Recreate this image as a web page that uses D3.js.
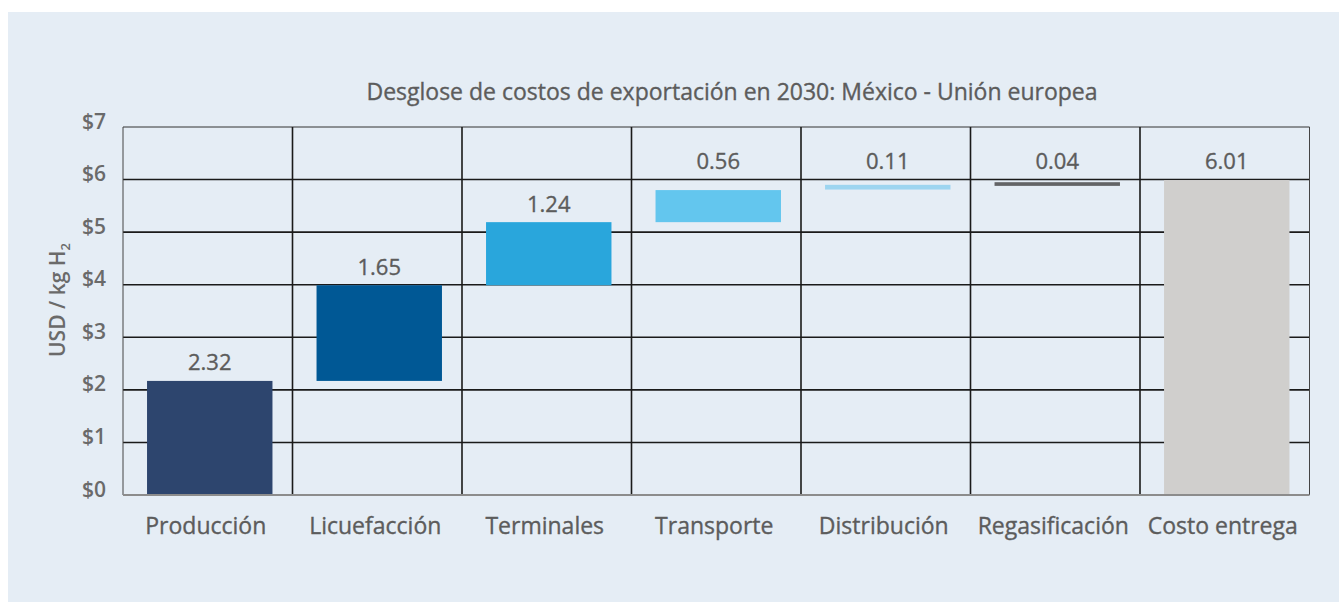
<!DOCTYPE html>
<html>
<head>
<meta charset="utf-8">
<style>
    body { margin: 0; background: #ffffff; }
    svg { display: block; font-family: "Open Sans", sans-serif; }
    .y .tick text { font-family: "Open Sans", sans-serif; font-size: 21px; font-weight: 600; fill: #6a6a6a; }
    .x .tick text { font-family: "Open Sans", sans-serif; font-size: 23px; fill: #5c5c5c; stroke: #5c5c5c; stroke-width: 0.35px; }
    .domain { display: none; }
    .medium { stroke: #5c5c5c; stroke-width: 0.35px; }
</style>
</head>
<body>
<svg width="1339" height="602"></svg>

<script src="https://d3js.org/d3.v7.min.js"></script>
<script>
    // categories and values
    const categories = ["Producción", "Licuefacción", "Terminales", "Transporte", "Distribución", "Regasificación", "Costo entrega"]
    const valueLabels = ["2.32", "1.65", "1.24", "0.56", "0.11", "0.04", "6.01"]
    // where each floating bar starts and ends, as drawn
    const barStart = [0, 2.17, 3.99, 5.19, 5.81, 5.88, 0]
    const barEnd = [2.17, 3.99, 5.19, 5.80, 5.90, 5.95, 5.99]
    const barColors = ["#2d456e", "#005895", "#29a6dc", "#63c6ee", "#9dd5f0", "#636466", "#d0cfcd"]
    const yTicks = [0, 1, 2, 3, 4, 5, 6, 7]

    const title = "Desglose de costos de exportación en 2030: México - Unión europea"

    let svg = d3.select("svg")

    let margin = { top: 127, right: 29.5, bottom: 107, left: 123 }
    let width = 1339
    let height = 602

    // light blue panel
    svg.append("rect")
        .attr("x", 8)
        .attr("y", 12)
        .attr("width", width - 8)
        .attr("height", height - 12)
        .style("fill", "#e5edf5")

    let x = d3.scaleBand()
        .domain(categories)
        .range([margin.left, width - margin.right])
        .padding(0)

    let y = d3.scaleLinear()
        .domain([0, 7])
        .range([height - margin.bottom, margin.top])

    let data = categories.map((c, i) => ({
        name: c,
        start: barStart[i],
        end: barEnd[i],
        label: valueLabels[i],
        color: barColors[i]
    }))

    // grid: horizontal lines
    svg.append("g")
        .selectAll("line")
        .data(yTicks.filter(d => d > 0))
        .join("line")
        .attr("x1", margin.left)
        .attr("x2", width - margin.right)
        .attr("y1", d => y(d))
        .attr("y2", d => y(d))
        .style("stroke", d => d == 7 ? "#333" : "#1a1a1a")
        .style("stroke-width", d => d == 7 ? 1 : 1.6)

    // grid: vertical lines between categories
    let edges = categories.map(c => x(c)).concat([x(categories[categories.length - 1]) + x.bandwidth()])
    svg.append("g")
        .selectAll("line")
        .data(edges)
        .join("line")
        .attr("x1", d => d)
        .attr("x2", d => d)
        .attr("y1", y(7))
        .attr("y2", y(0))
        .style("stroke", (d, i) => (i == 0 || i == edges.length - 1) ? "#444" : "#1a1a1a")
        .style("stroke-width", (d, i) => (i == 0 || i == edges.length - 1) ? 1 : 1.6)

    // bars
    let barW = x.bandwidth() * 0.74
    svg.append("g")
        .selectAll("rect")
        .data(data)
        .join("rect")
        .attr("x", d => x(d.name) + (x.bandwidth() - barW) / 2 + 2)
        .attr("width", barW)
        .attr("y", d => y(d.end))
        .attr("height", d => y(d.start) - y(d.end))
        .style("fill", d => d.color)

    // baseline
    svg.append("line")
        .attr("x1", margin.left)
        .attr("x2", width - margin.right)
        .attr("y1", y(0))
        .attr("y2", y(0))
        .style("stroke", "#8c8c8c")
        .style("stroke-width", 2)

    // value labels sit above the bar; bars ending near the top share the $6 line
    svg.append("g")
        .selectAll("text")
        .data(data)
        .join("text")
        .attr("class", "medium")
        .attr("x", d => x(d.name) + x.bandwidth() / 2 + 2)
        .attr("y", d => {
            let top = d.end > 5.5 ? Math.max(d.end, 6) : d.end
            return y(top) - 10.5
        })
        .attr("text-anchor", "middle")
        .style("font-size", "22px")
        .style("fill", "#5c5c5c")
        .text(d => d.label)

    // y axis
    let yAxis = d3.axisLeft(y)
        .tickValues(yTicks)
        .tickSize(0)
        .tickPadding(17)
        .tickFormat(d => "$" + d)

    let yAxisG = svg.append("g")
        .attr("class", "y axis")
        .attr("transform", `translate(${margin.left},0)`)
        .call(yAxis)
    yAxisG.selectAll(".tick text").attr("dy", "0").attr("y", 1)

    // x axis
    let xAxis = d3.axisBottom(x)
        .tickSize(0)
        .tickPadding(0)

    let xAxisG = svg.append("g")
        .attr("class", "x axis")
        .attr("transform", `translate(0,${y(0)})`)
        .call(xAxis)
    xAxisG.selectAll(".tick text").attr("dy", "0").attr("y", 39).attr("x", -2)

    // axis title
    let yTitle = svg.append("text")
        .attr("transform", "translate(65,300) rotate(-90)")
        .attr("text-anchor", "middle")
        .style("font-size", "21px")
        .style("font-weight", 600)
        .style("fill", "#6a6a6a")
    yTitle.append("tspan").text("USD / kg H")
    yTitle.append("tspan")
        .attr("dy", 5)
        .style("font-size", "13px")
        .text("2")

    // chart title
    svg.append("text")
        .attr("class", "medium")
        .attr("x", 732)
        .attr("y", 100)
        .attr("text-anchor", "middle")
        .style("font-size", "23px")
        .style("fill", "#5c5c5c")
        .text(title)
</script>
</body>
</html>
